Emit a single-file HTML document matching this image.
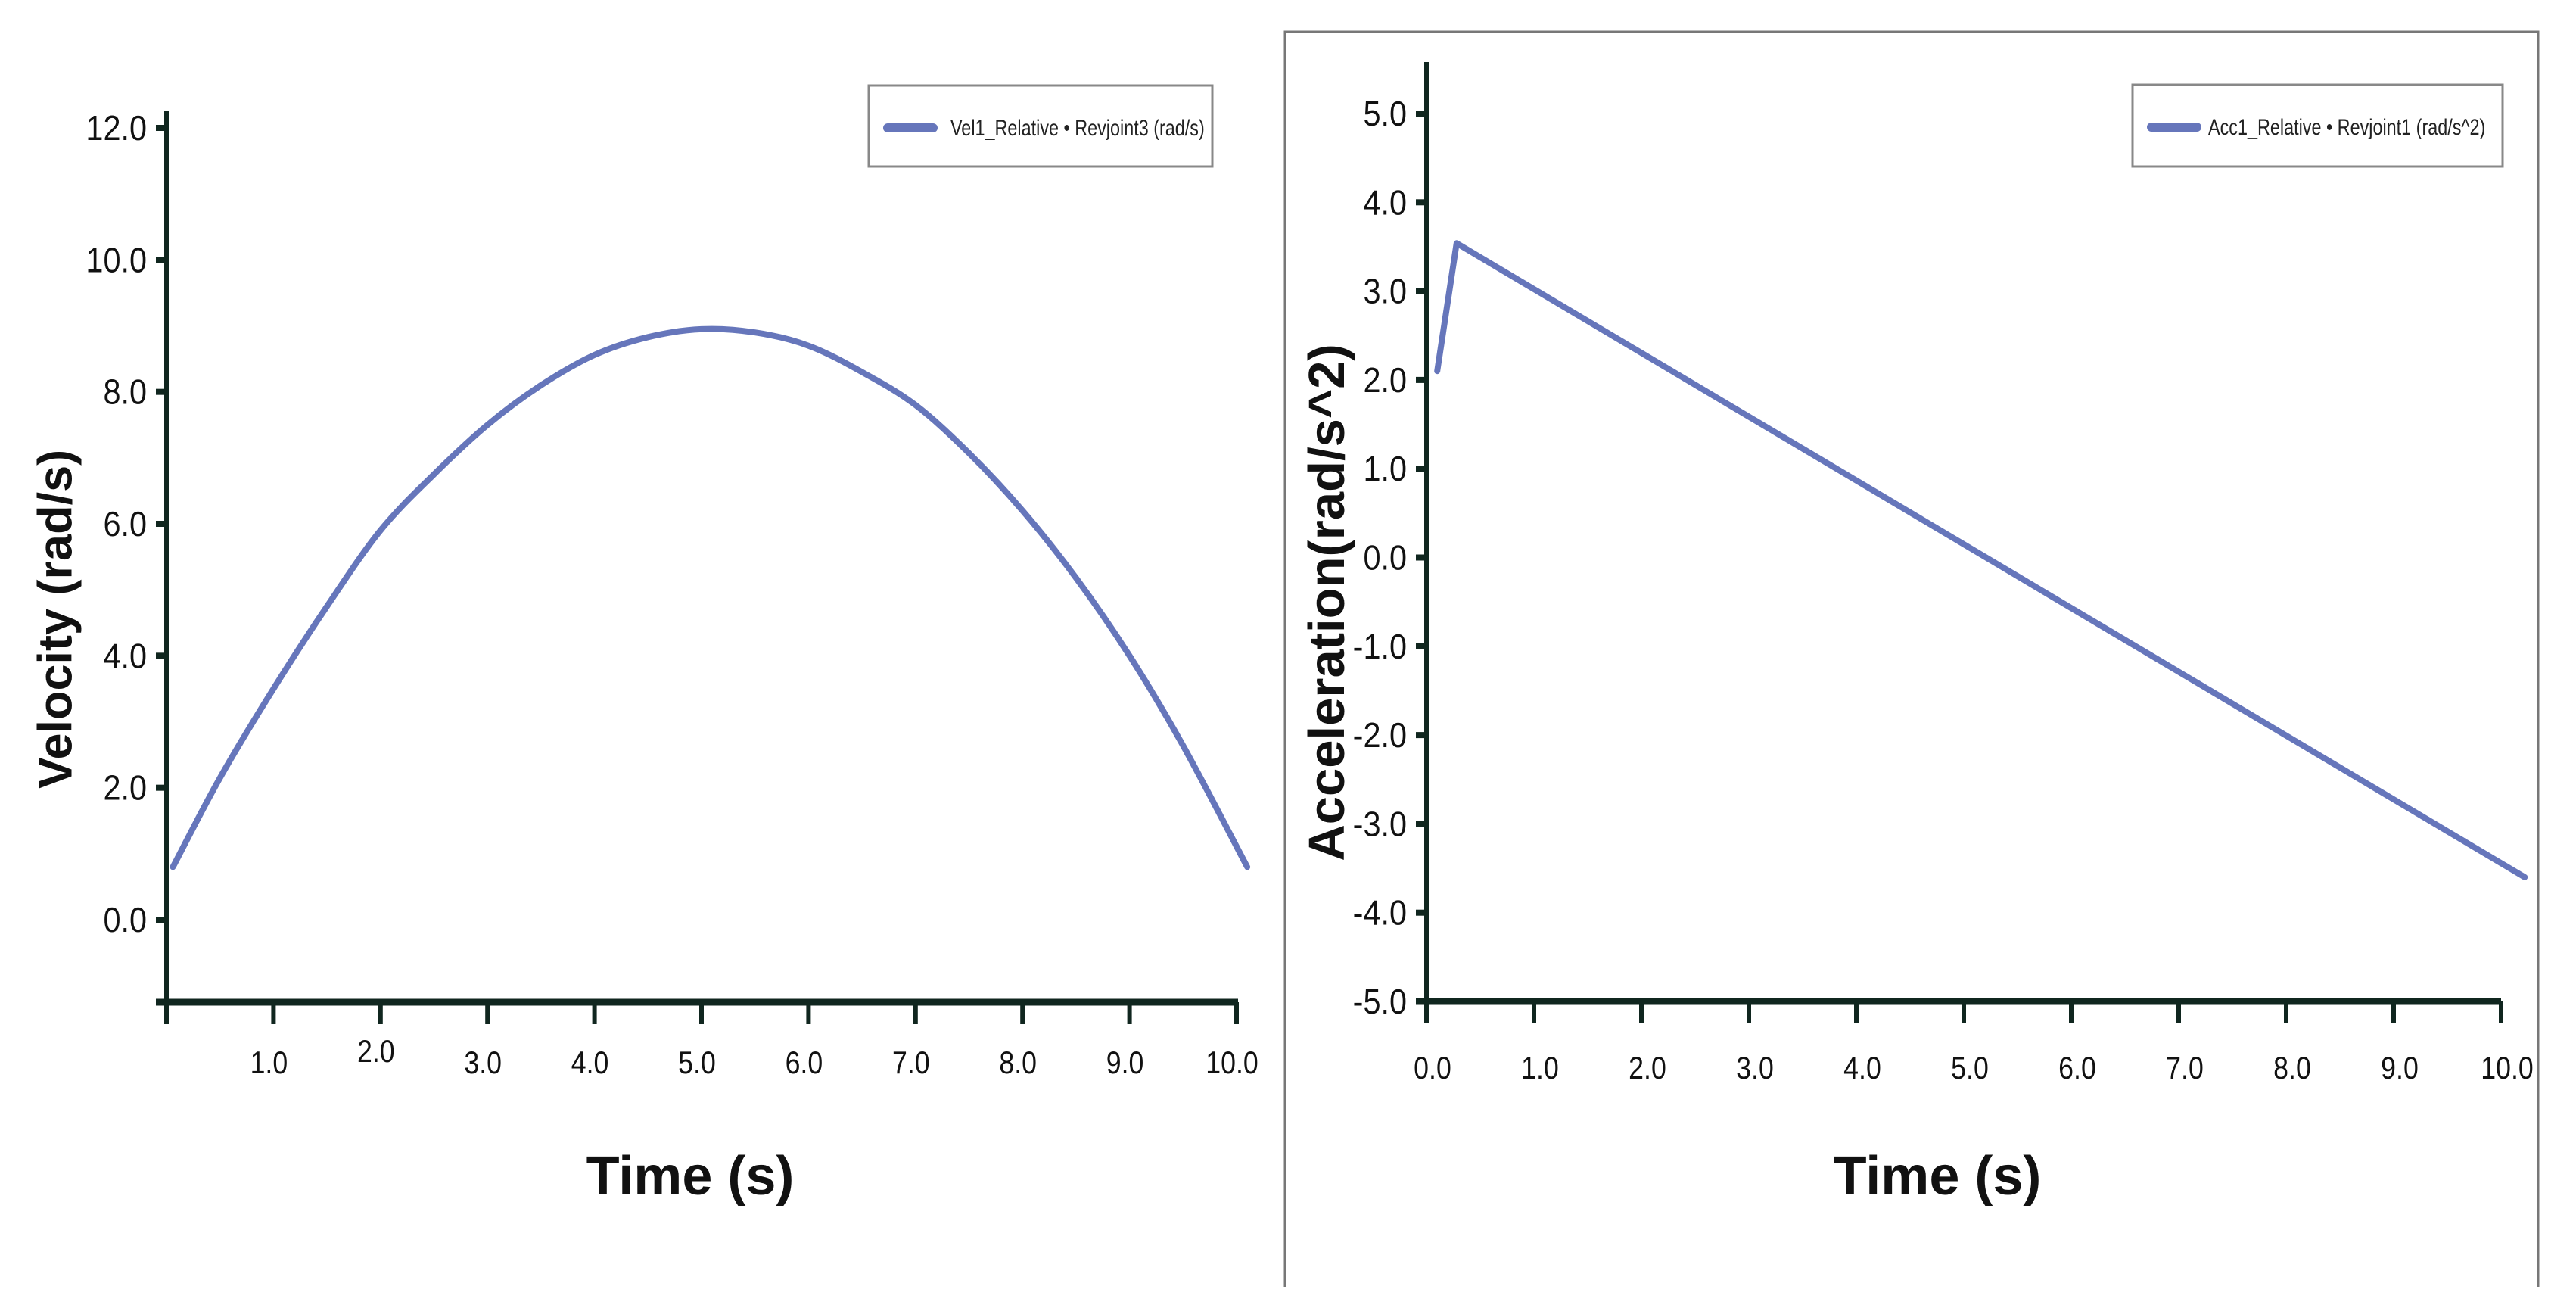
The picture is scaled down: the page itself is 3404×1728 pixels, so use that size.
<!DOCTYPE html>
<html><head><meta charset="utf-8">
<style>
html,body{margin:0;padding:0;background:#fff;}
svg{display:block;font-family:"Liberation Sans",sans-serif;}
</style></head>
<body>
<svg id="chart" width="3404" height="1728" viewBox="0 0 3404 1728" xmlns="http://www.w3.org/2000/svg">
<rect x="0" y="0" width="3404" height="1728" fill="#fff"/>
<path d="M1698 1700 V42 H3354 V1700" fill="none" stroke="#777" stroke-width="3"/>
<g id="left"></g>
<g id="right"></g>
</svg>
<script>
const NS="http://www.w3.org/2000/svg";
// Left chart data
const velTimes=[0.06,0.5,1,1.5,2,2.5,3,3.5,4,4.5,5,5.5,6,6.5,7,7.5,8,8.5,9,9.5,10.1];
const velValues=[0.8,2.15,3.5,4.75,5.9,6.75,7.5,8.1,8.56,8.83,8.95,8.9,8.7,8.3,7.8,7.07,6.2,5.18,4.0,2.64,0.8];
const velYTicks=[0,2,4,6,8,10,12];
const velYTickLabels=["0.0","2.0","4.0","6.0","8.0","10.0","12.0"];
const velXTicks=[1,2,3,4,5,6,7,8,9,10];
const velXTickLabels=["1.0","2.0","3.0","4.0","5.0","6.0","7.0","8.0","9.0","10.0"];
// Right chart data
const accTimes=[0.1,0.28,10.22];
const accValues=[2.1,3.54,-3.6];
const accYTicks=[-5,-4,-3,-2,-1,0,1,2,3,4,5];
const accYTickLabels=["-5.0","-4.0","-3.0","-2.0","-1.0","0.0","1.0","2.0","3.0","4.0","5.0"];
const accXTicks=[0,1,2,3,4,5,6,7,8,9,10];
const accXTickLabels=["0.0","1.0","2.0","3.0","4.0","5.0","6.0","7.0","8.0","9.0","10.0"];

function el(parent,tag,attrs,text){const e=document.createElementNS(NS,tag);for(const k in attrs)e.setAttribute(k,attrs[k]);if(text!==undefined)e.textContent=text;parent.appendChild(e);return e;}
const AX="#10261f", LINE="#6676bb";

function pathFrom(pts,smooth){
  if(!smooth) return pts.map((p,i)=>(i?'L':'M')+p[0].toFixed(1)+' '+p[1].toFixed(1)).join(' ');
  let d='M'+pts[0][0].toFixed(1)+' '+pts[0][1].toFixed(1);
  for(let i=0;i<pts.length-1;i++){
    const p0=pts[Math.max(0,i-1)],p1=pts[i],p2=pts[i+1],p3=pts[Math.min(pts.length-1,i+2)];
    const c1=[p1[0]+(p2[0]-p0[0])/6,p1[1]+(p2[1]-p0[1])/6];
    const c2=[p2[0]-(p3[0]-p1[0])/6,p2[1]-(p3[1]-p1[1])/6];
    d+=` C${c1[0].toFixed(1)} ${c1[1].toFixed(1)} ${c2[0].toFixed(1)} ${c2[1].toFixed(1)} ${p2[0].toFixed(1)} ${p2[1].toFixed(1)}`;
  }
  return d;
}

function drawChart(g,cfg){
  const xs=t=>cfg.x0+(t-cfg.t0)*cfg.pxPerT;
  const ys=v=>cfg.yA+(v-cfg.vA)*(cfg.yB-cfg.yA)/(cfg.vB-cfg.vA);
  let e;
  e=el(g,'line',{x1:cfg.x0,y1:cfg.axTop,x2:cfg.x0,y2:cfg.xAxisY+29,stroke:AX,'stroke-width':6});
  
  
  e=el(g,'line',{x1:cfg.x0-14,y1:cfg.xAxisY,x2:cfg.xEnd,y2:cfg.xAxisY,stroke:AX,'stroke-width':9});
  
  
  cfg.yTicks.forEach((v,i)=>{
    const y=ys(v);
    e=el(g,'line',{x1:cfg.x0-14,y1:y,x2:cfg.x0,y2:y,stroke:AX,'stroke-width':8});
    
    
    const tx=cfg.x0-26;
    e=el(g,'text',{x:tx,y:y+16,'text-anchor':'end','font-size':46,fill:'#111',transform:`translate(${tx} 0) scale(0.9 1) translate(${-tx} 0)`},cfg.yLabels[i]);
    
    
  });
  cfg.xTicks.forEach((t,i)=>{
    const x=xs(t);
    e=el(g,'line',{x1:x,y1:cfg.xAxisY,x2:x,y2:cfg.xAxisY+29,stroke:AX,'stroke-width':6});
    
    
    const dy=(cfg.raise2 && t===2)?-15:0;
    const lx=x+cfg.labShift;
    e=el(g,'text',{x:lx,y:cfg.xLabY+dy,'text-anchor':'middle','font-size':42,fill:'#111',transform:`translate(${lx} 0) scale(0.85 1) translate(${-lx} 0)`},cfg.xLabels[i]);
    
    
  });
  const pts=cfg.times.map((t,i)=>[xs(t),ys(cfg.values[i])]);
  e=el(g,'path',{d:pathFrom(pts,cfg.smooth),fill:'none',stroke:LINE,'stroke-width':8,'stroke-linejoin':'round','stroke-linecap':'round'});
  
  
  e=el(g,'rect',{x:cfg.leg[0],y:cfg.leg[1],width:cfg.leg[2],height:cfg.leg[3],fill:'#fff',stroke:'#888','stroke-width':3});
  
  
  e=el(g,'line',{x1:cfg.leg[0]+25,y1:cfg.leg[1]+56,x2:cfg.leg[0]+85,y2:cfg.leg[1]+56,stroke:LINE,'stroke-width':12,'stroke-linecap':'round'});
  
  
  const lx=cfg.leg[0]+cfg.legTextX;
  e=el(g,'text',{x:lx,y:cfg.leg[1]+66,'font-size':30,fill:'#222',transform:`translate(${lx} 0) scale(0.78 1) translate(${-lx} 0)`},cfg.legText);
  
  
  e=el(g,'text',{x:cfg.yTitle[0],y:cfg.yTitle[1],'text-anchor':'middle','font-size':cfg.yTitleSize,'font-weight':'bold',fill:'#111',transform:`rotate(-90 ${cfg.yTitle[0]} ${cfg.yTitle[1]})`,dy:cfg.yTitleSize*0.36},cfg.yTitleText);
  
  
  e=el(g,'text',{x:cfg.xTitle[0],y:cfg.xTitle[1]+25,'text-anchor':'middle','font-size':72,'font-weight':'bold',fill:'#111'},'Time (s)');
  
  
}
drawChart(document.getElementById('left'),{x0:220,t0:0,pxPerT:141.4,xEnd:1636,axTop:146,xAxisY:1324,
  yA:1215,vA:0,yB:169,vB:12,yTicks:velYTicks,yLabels:velYTickLabels,xTicks:velXTicks,xLabels:velXTickLabels,
  xLabY:1418,raise2:true,labShift:-6,smooth:true,times:velTimes,values:velValues,leg:[1148,113,454,107],legTextX:108,
  legText:"Vel1_Relative • Revjoint3  (rad/s)",yTitleText:"Velocity (rad/s)",yTitleSize:63,yTitle:[72,818],xTitle:[912,1553]});
drawChart(document.getElementById('right'),{x0:1885,t0:0,pxPerT:142,xEnd:3305,axTop:82,xAxisY:1323,
  yA:150,vA:5,yB:1323,vB:-5,yTicks:accYTicks,yLabels:accYTickLabels,xTicks:accXTicks,xLabels:accXTickLabels,
  xLabY:1425,raise2:false,labShift:8,smooth:false,times:accTimes,values:accValues,leg:[2818,112,489,108],legTextX:100,
  legText:"Acc1_Relative • Revjoint1  (rad/s^2)",yTitleText:"Acceleration(rad/s^2)",yTitleSize:67,yTitle:[1752,796],xTitle:[2560,1553]});
</script>
</body></html>
